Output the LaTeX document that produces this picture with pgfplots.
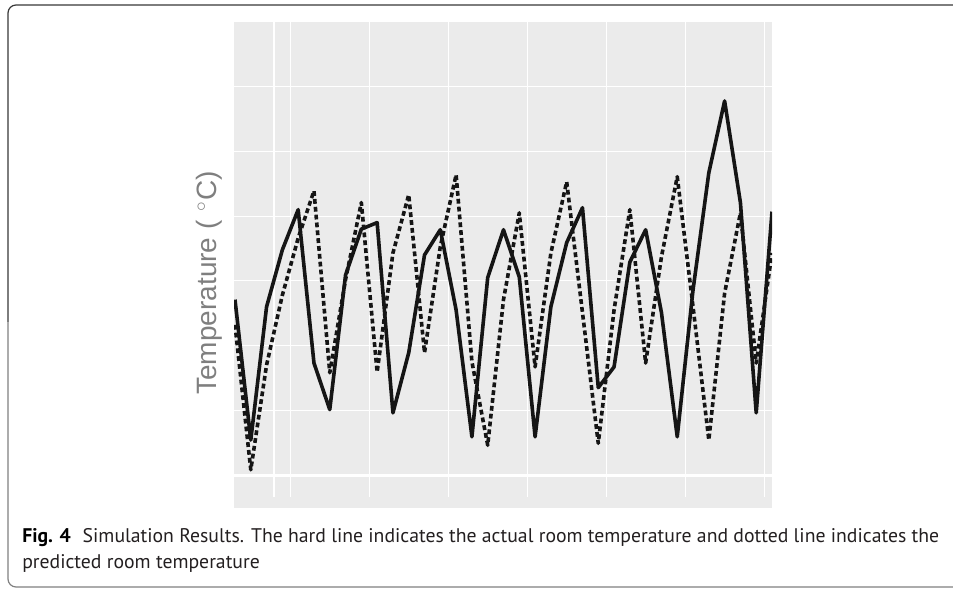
\documentclass[border=0pt]{standalone}
\usepackage{pgfplots}
\pgfplotsset{compat=1.18}
\usepackage{pgfplotstable}
\usepackage{fontspec}
\setmainfont{PT Sans}
\newfontfamily\labelfont{Liberation Sans}

\definecolor{panel}{HTML}{EBEBEB}
\definecolor{lineblk}{HTML}{151515}
\definecolor{labelgray}{HTML}{7F7F7F}
\definecolor{captxt}{HTML}{231F20}

% actual room temperature (hard line)
\pgfplotstableread{
x y
0 2.71
1 0.54
2 2.60
3 3.48
4 4.10
5 1.73
6 1.01
7 3.09
8 3.80
9 3.90
10 0.96
11 1.89
12 3.40
13 3.79
14 2.55
15 0.59
16 3.05
17 3.79
18 3.06
19 0.59
20 2.60
21 3.59
22 4.13
23 1.35
24 1.67
25 3.29
26 3.79
27 2.51
28 0.59
29 2.86
30 4.67
31 5.78
32 4.21
33 0.96
34 4.07
}\actual

% predicted room temperature (dotted line)
\pgfplotstableread{
x y
0 2.32
1 0.08
2 1.70
3 2.78
4 3.66
5 4.39
6 1.58
7 3.02
8 4.21
9 1.59
10 3.43
11 4.33
12 1.89
13 3.53
14 4.64
15 1.75
16 0.46
17 2.71
18 4.05
19 1.67
20 3.43
21 4.53
22 2.51
23 0.49
24 2.55
25 4.10
26 1.73
27 3.37
28 4.61
29 2.60
30 0.54
31 2.81
32 4.05
33 1.73
34 3.43
}\predicted

\begin{document}
\begin{tikzpicture}
\path[use as bounding box] (0,0) rectangle (714.75pt,441.75pt);

% figure frame (open on the right)
\draw[color=black!78, line width=0.9pt]
  (716pt,438pt) -- (12pt,438pt) arc[start angle=90, end angle=180, radius=6pt] -- (6pt,200pt);
\draw[color=black!50, line width=0.9pt]
  (6pt,200pt) -- (6pt,7.5pt) arc[start angle=180, end angle=270, radius=6pt] -- (716pt,1.5pt);

\begin{axis}[
    at={(175.5pt,60.75pt)}, anchor=south west,
    scale only axis,
    width=403.5pt, height=364.5pt,
    xmin=-0.063, xmax=34,
    ymin=-0.51, ymax=7.0,
    axis background/.style={fill=panel},
    axis line style={draw=none},
    xtick=\empty,
    ytick={-0.03,0,1,2,3,4,5,6},
    yticklabels={},
    major tick length=0pt,
    ymajorgrids,
    major grid style={white, line width=0.8pt},
    ylabel={\labelfont Temperature (\,\,$^{\circ}$C)},
    ylabel style={at={(axis description cs:-0.0465,0.463)}, anchor=center,
                  font=\fontsize{21pt}{23pt}\selectfont, color=labelgray},
    clip=true,
]
% vertical grid lines stop short of the panel bottom
\foreach \gx in {2.47,3.49,8.49,13.49,18.5,23.5,28.5,33.5}{
  \edef\tmp{\noexpand\draw[white, line width=0.8pt] (axis cs:\gx,-0.34) -- (axis cs:\gx,7);}
  \tmp
}
\addplot[lineblk, line width=2.7pt, line join=round] table[x=x, y=y] {\actual};
\addplot[lineblk, line width=2.7pt, line join=round, dash pattern=on 3.6pt off 2.3pt] table[x=x, y=y] {\predicted};
\end{axis}

% caption
\node[anchor=base west, inner sep=0pt, color=captxt, font=\fontsize{14.8pt}{18pt}\selectfont]
  at (16.5pt,34.5pt) {\textbf{\color{black}Fig. 4}\hspace{0.6em}Simulation Results. The hard line indicates the actual room temperature and dotted line indicates the};
\node[anchor=base west, inner sep=0pt, color=captxt, font=\fontsize{14.8pt}{18pt}\selectfont]
  at (16.5pt,15.75pt) {predicted room temperature};
\end{tikzpicture}
\end{document}
